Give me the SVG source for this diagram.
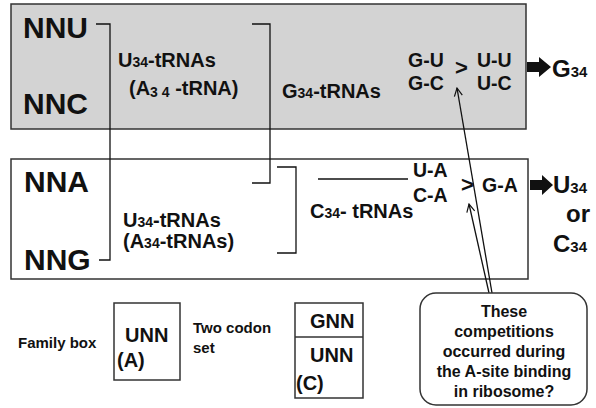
<svg xmlns="http://www.w3.org/2000/svg" width="596" height="408" viewBox="0 0 596 408">
<defs>
<marker id="open" viewBox="0 0 10 10" refX="9" refY="5" markerWidth="10" markerHeight="10" markerUnits="userSpaceOnUse" orient="auto">
<path d="M1,1 L9,5 L1,9" fill="none" stroke="#111" stroke-width="1.2"/>
</marker>
</defs>
<style>
text{font-family:"Liberation Sans",Arial,sans-serif;font-weight:bold;fill:#111}
.big{font-size:30px}
.lab{font-size:20px}
.sub{font-size:14px}
.pair{font-size:19.5px}
.gt{font-size:22px}
.res{font-size:24px}
.rsub{font-size:15px}
.leg{font-size:15px}
.box{font-size:20px}
.bub{font-size:16px;text-anchor:middle}
.frame{stroke:#333;stroke-width:1.5}
.ln{fill:none;stroke:#111;stroke-width:1.3}
</style>
<g id="top-box">
<rect x="11" y="4" width="515" height="125" fill="#d3d3d3" class="frame"/>
<text class="big" x="23" y="38">NNU</text>
<text class="big" x="23" y="114">NNC</text>
<text class="lab" x="118" y="67">U<tspan class="sub">34</tspan>-tRNAs</text>
<text class="lab" x="129" y="95" font-size="19">(A<tspan class="sub" dy="2">3 4</tspan><tspan dy="-2"> -tRNA)</tspan></text>
<text class="lab" x="282" y="98">G<tspan class="sub">34</tspan>-tRNAs</text>
<text class="pair" x="408" y="67">G-U</text>
<text class="pair" x="408" y="90">G-C</text>
<text class="gt" x="455" y="75">&gt;</text>
<text class="pair" x="477" y="67">U-U</text>
<text class="pair" x="477" y="90">U-C</text>
</g>
<g id="top-result">
<path d="M527,62 H539 V57 L551,67 L539,77 V72 H527 Z" fill="#111"/>
<text class="res" x="552" y="77">G<tspan class="rsub">34</tspan></text>
</g>
<g id="bottom-box">
<rect x="11" y="159" width="517" height="120" fill="#fff" class="frame"/>
<text class="big" x="24" y="192">NNA</text>
<text class="big" x="24" y="270">NNG</text>
<text class="lab" x="123" y="227">U<tspan class="sub">34</tspan>-tRNAs</text>
<text class="lab" x="123" y="248">(A<tspan class="sub">34</tspan>-tRNAs)</text>
<text class="lab" x="310" y="218">C<tspan class="sub">34</tspan>- tRNAs</text>
<text class="pair" x="413" y="177" font-size="20">U-A</text>
<text class="pair" x="413" y="202" font-size="20">C-A</text>
<text class="gt" x="461" y="192">&gt;</text>
<text class="pair" x="482" y="192" font-size="20">G-A</text>
</g>
<g id="bottom-result">
<path d="M530,180 H542 V175 L553,185 L542,195 V190 H530 Z" fill="#111"/>
<text class="res" x="553" y="193">U<tspan class="rsub">34</tspan></text>
<text class="res" x="566" y="222">or</text>
<text class="res" x="553" y="252">C<tspan class="rsub">34</tspan></text>
</g>
<g id="connectors">
<path class="ln" d="M96,24 H110 V260 H99"/>
<path class="ln" d="M252,24 H270 V183 H252"/>
<path class="ln" d="M277,167 H296 V253 H277"/>
<line class="ln" x1="318" y1="179" x2="408" y2="179"/>
<line class="ln" x1="492" y1="293" x2="457" y2="88" marker-end="url(#open)"/>
<line class="ln" x1="489" y1="293" x2="469" y2="204" marker-end="url(#open)"/>
</g>
<g id="legend-family">
<text class="leg" x="18" y="348">Family box</text>
<rect x="114" y="303" width="66" height="77" fill="#fff" class="frame"/>
<text class="box" x="125" y="342">UNN</text>
<text class="box" x="117" y="367">(A)</text>
</g>
<g id="legend-two">
<text class="leg" x="193" y="333">Two codon</text>
<text class="leg" x="193" y="353">set</text>
<rect x="295" y="303" width="68" height="95" fill="#fff" class="frame"/>
<line x1="295" y1="337" x2="363" y2="337" class="frame"/>
<text class="box" x="310" y="328">GNN</text>
<text class="box" x="310" y="362">UNN</text>
<text class="box" x="296" y="390">(C)</text>
</g>
<g id="callout">
<rect x="420" y="293" width="167" height="112" rx="16" fill="#fff" class="frame"/>
<text class="bub" x="504" y="317">These</text>
<text class="bub" x="504" y="337">competitions</text>
<text class="bub" x="504" y="357">occurred during</text>
<text class="bub" x="504" y="377">the A-site binding</text>
<text class="bub" x="504" y="397">in ribosome?</text>
</g>
</svg>
